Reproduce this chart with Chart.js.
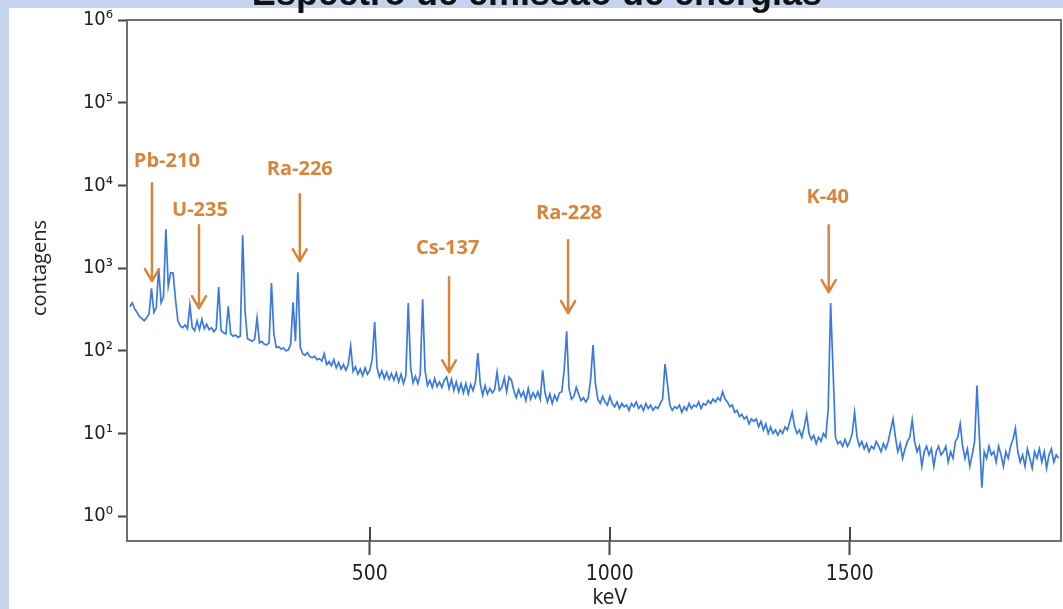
<!DOCTYPE html>
<html lang="pt">
<head>
<meta charset="utf-8">
<title>Espectro de emissão de energias</title>
<script src="https://cdn.jsdelivr.net/npm/chart.js@4.4.1/dist/chart.umd.min.js"></script>
<style>
  html, body { margin: 0; padding: 0; }
  body {
    width: 1063px;
    height: 609px;
    overflow: hidden;
    background:
      linear-gradient(#c5d3ee, #c5d3ee) top left / 100% 8px no-repeat,
      linear-gradient(#c5d3ee, #c5d3ee) top left / 9px 100% no-repeat,
      #ffffff;
  }
  #caixa { position: absolute; left: 0; top: 0; width: 1063px; height: 609px; }
</style>
</head>
<body>
<div id="caixa"><canvas id="espectro"></canvas></div>
<script>
const titulo = "Espectro de emissão de energias";
const tituloX = "keV";
const tituloY = "contagens";

// canais de 5 keV a partir de 0 keV
const energiaInicial = 0;
const passoCanal = 5;
const contagens = [
  340, 380, 320, 290, 260, 245, 230, 250, 280, 570,
  290, 330, 1000, 380, 450, 2950, 600, 880, 870, 420,
  230, 200, 190, 205, 185, 355, 190, 175, 230, 180,
  240, 185, 210, 180, 190, 170, 185, 590, 175, 165,
  160, 345, 160, 150, 155, 145, 150, 2500, 300, 140,
  135, 130, 138, 250, 125, 130, 120, 118, 125, 660,
  160, 110, 112, 105, 108, 100, 102, 120, 385, 130,
  890, 110, 92, 88, 95, 85, 82, 86, 78, 80,
  75, 92, 68, 74, 66, 78, 62, 72, 60, 68,
  58, 68, 114, 56, 64, 52, 60, 50, 62, 52,
  58, 80, 222, 62, 48, 57, 46, 55, 45, 53,
  44, 54, 42, 52, 40, 50, 377, 62, 41, 49,
  40, 52, 420, 58, 38, 44, 36, 46, 37, 42,
  36, 44, 48, 35, 45, 33, 42, 32, 40, 31,
  40, 30, 39, 33, 42, 94, 40, 29, 38, 30,
  35, 31, 34, 55, 33, 36, 47, 32, 48, 44,
  33, 27, 34, 28, 32, 25, 35, 26, 31, 27,
  32, 26, 58, 31, 24, 30, 23, 29, 25, 31,
  32, 60, 172, 35, 26, 28, 36, 30, 25, 27,
  24, 27, 45, 117, 40, 26, 23, 28, 24, 22,
  28, 23, 21, 24, 20, 23, 21, 22, 19, 23,
  21, 24, 20, 22, 19, 23, 20, 22, 19, 21,
  20, 23, 26, 69, 40, 22, 19, 21, 20, 22,
  18, 21, 19, 23, 20, 22, 21, 24, 20, 23,
  22, 25, 23, 26, 24, 27, 25, 32, 26, 24,
  21, 22, 18, 19, 16, 17, 15, 16, 13, 15,
  14, 15, 12, 14, 11, 13, 10, 12, 10, 11,
  9.5, 11, 10, 12, 11, 14, 18, 12, 10, 11,
  9, 12, 17, 10, 8.5, 9.5, 7.5, 9, 8, 10,
  9, 20, 377, 60, 9, 7.5, 8, 7, 8.5, 7,
  8, 10, 18, 9, 7, 8, 6.5, 7.5, 6, 7,
  6.5, 8, 7, 6, 7.5, 6.5, 8, 11, 15, 9,
  6, 7.5, 5, 6.5, 8, 9, 14.5, 8, 6, 7,
  4, 6, 7, 5.5, 6.5, 4, 6, 7, 5.5, 6,
  7, 4.5, 6, 5, 8, 9, 13, 7, 5, 6.5,
  4, 5.5, 8, 38, 9, 2.2, 6, 5, 7, 5.5,
  6, 4.5, 7, 5.5, 4, 6, 5, 7, 8.5, 11.5,
  6, 4.5, 5.5, 4, 6.5, 5, 3.8, 6, 5, 6.5,
  4.5, 6, 3.8, 5.5, 6.5, 4.5, 5.5, 5
];

const marcasX = [500, 1000, 1500];
const expoentesY = [0, 1, 2, 3, 4, 5, 6];
const sobrescritos = ["⁰", "¹", "²", "³", "⁴", "⁵", "⁶"];

// setas laranja: energia (keV) e contagens do início e da ponta
const nuclideos = ["Pb-210", "U-235", "Ra-226", "Cs-137", "Ra-228", "K-40"];
const energiaSeta = [46, 144, 354, 665, 913, 1456];
const inicioSeta = [10600, 3300, 7830, 776, 2170, 3300];
const pontaSeta = [695, 327, 1210, 55, 285, 511];
const energiaTexto = [77, 146, 354, 662, 915, 1454];
const alturaTexto = [19600, 5010, 15700, 1740, 4610, 7200];

const pontos = contagens.map((c, i) => ({ x: energiaInicial + i * passoCanal, y: c }));

const fonteEixo = "'Liberation Sans Narrow', 'DejaVu Sans Condensed', 'Liberation Sans', Arial, sans-serif";
const laranja = "#d8843a";

const moldura = {
  id: "moldura",
  afterDatasetsDraw(chart) {
    const { ctx, chartArea: a, scales } = chart;
    ctx.save();
    ctx.strokeStyle = "#707070";
    ctx.lineWidth = 2;
    ctx.strokeRect(a.left, a.top, a.right - a.left, a.bottom - a.top);
    // as marcas do eixo x atravessam a linha do eixo
    ctx.strokeStyle = "#444";
    marcasX.forEach((v) => {
      const x = Math.round(scales.x.getPixelForValue(v));
      ctx.beginPath();
      ctx.moveTo(x, a.bottom);
      ctx.lineTo(x, a.bottom - 14);
      ctx.stroke();
    });
    ctx.restore();
  },
};

const setas = {
  id: "setas",
  afterDraw(chart) {
    const { ctx, scales } = chart;
    ctx.save();
    ctx.strokeStyle = laranja;
    ctx.fillStyle = laranja;
    ctx.lineWidth = 2.5;
    ctx.lineCap = "round";
    ctx.lineJoin = "round";
    ctx.font = "bold 20px 'Open Sans', 'Noto Sans', sans-serif";
    ctx.textAlign = "center";
    ctx.textBaseline = "middle";
    for (let i = 0; i < nuclideos.length; i++) {
      const x = scales.x.getPixelForValue(energiaSeta[i]);
      const y0 = scales.y.getPixelForValue(inicioSeta[i]);
      const y1 = scales.y.getPixelForValue(pontaSeta[i]);
      ctx.beginPath();
      ctx.moveTo(x, y0);
      ctx.lineTo(x, y1);
      ctx.moveTo(x - 7, y1 - 12);
      ctx.lineTo(x, y1);
      ctx.lineTo(x + 7, y1 - 12);
      ctx.stroke();
      ctx.fillText(
        nuclideos[i],
        scales.x.getPixelForValue(energiaTexto[i]),
        scales.y.getPixelForValue(alturaTexto[i])
      );
    }
    ctx.restore();
  },
};

const textos = {
  id: "textos",
  afterDraw(chart) {
    const { ctx, scales } = chart;
    ctx.save();
    ctx.fillStyle = "#111";
    ctx.textAlign = "center";
    ctx.textBaseline = "alphabetic";
    ctx.font = "bold 36px 'Liberation Sans', Arial, sans-serif";
    ctx.fillText(titulo, 537, 5);

    ctx.fillStyle = "#222";
    ctx.textBaseline = "middle";
    ctx.font = "21px " + fonteEixo;
    ctx.fillText(tituloX, scales.x.getPixelForValue(1000), 599);

    ctx.font = "20px 'Open Sans', 'Noto Sans', sans-serif";
    ctx.translate(40, 268);
    ctx.rotate(-Math.PI / 2);
    ctx.fillText(tituloY, 0, 0);
    ctx.restore();
  },
};

new Chart("espectro", {
  type: "line",
  data: {
    datasets: [
      {
        data: pontos,
        borderColor: "#3a7ae0",
        borderWidth: 1.7,
        pointRadius: 0,
        tension: 0,
        fill: false,
      },
    ],
  },
  options: {
    responsive: true,
    maintainAspectRatio: false,
    animation: false,
    layout: { padding: { left: 0, top: 20, right: 2, bottom: 0 } },
    plugins: {
      legend: { display: false },
      tooltip: { enabled: false },
    },
    scales: {
      x: {
        type: "linear",
        min: -6,
        max: 1940,
        afterBuildTicks: (s) => {
          s.ticks = marcasX.map((v) => ({ value: v }));
        },
        afterFit: (s) => {
          s.height = 68;
        },
        grid: { drawOnChartArea: false, tickLength: 14, tickWidth: 2, tickColor: "#444" },
        border: { display: true, color: "#707070", width: 2 },
        ticks: {
          color: "#222",
          font: { family: fonteEixo, size: 21 },
          padding: 7,
          maxRotation: 0,
          callback: (v) => String(v),
        },
      },
      y: {
        type: "logarithmic",
        min: 0.5,
        max: 1e6,
        afterBuildTicks: (s) => {
          s.ticks = expoentesY.map((e) => ({ value: Math.pow(10, e) }));
        },
        afterFit: (s) => {
          s.width = 127;
        },
        grid: { drawOnChartArea: false, tickLength: 9, tickWidth: 2, tickColor: "#444" },
        border: { display: true, color: "#707070", width: 2 },
        ticks: {
          color: "#222",
          font: { family: fonteEixo, size: 20 },
          padding: 5,
          callback: (v) => "10" + sobrescritos[Math.round(Math.log10(v))],
        },
      },
    },
  },
  plugins: [moldura, setas, textos],
});
</script>
</body>
</html>
